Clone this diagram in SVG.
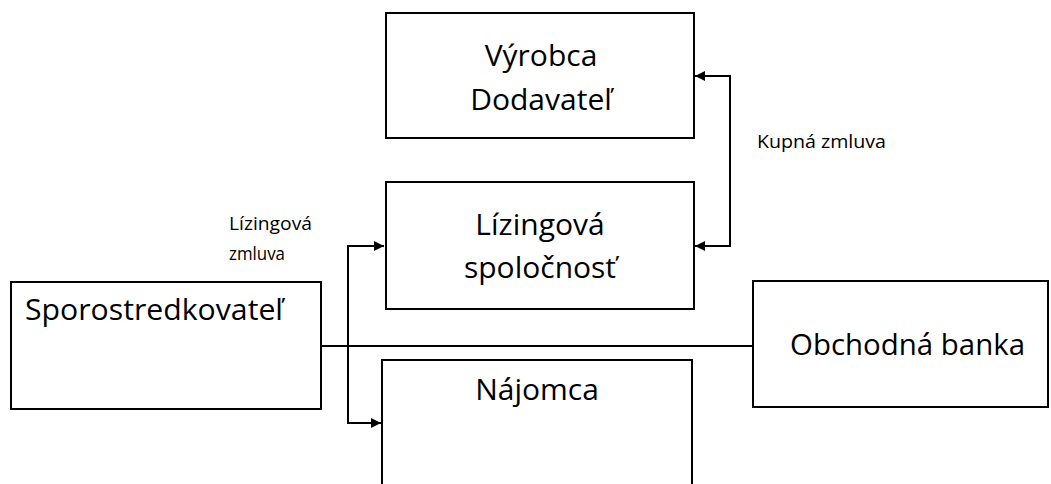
<svg xmlns="http://www.w3.org/2000/svg" width="1051" height="484" viewBox="0 0 1051 484">
<style>
.box{fill:#fff;stroke:#000;stroke-width:2}
.big{font-family:"Open Sans","Liberation Sans",sans-serif;font-size:30px;fill:#000}
.small{font-family:"Open Sans","Liberation Sans",sans-serif;font-size:18px;fill:#000}
.line{fill:none;stroke:#000;stroke-width:2}
</style>
<defs>
<marker id="arr" viewBox="0 0 10 10" refX="10" refY="5" markerWidth="5" markerHeight="5" markerUnits="strokeWidth" orient="auto">
<path d="M0,0 L10,5 L0,10 z" fill="#000"/>
</marker>
</defs>
<rect width="1051" height="484" fill="#fff"/>
<g id="vyrobca">
<rect class="box" x="386" y="13" width="308" height="125"/>
<text class="big" x="541" y="66" text-anchor="middle">Výrobca</text>
<text class="big" x="541" y="110" text-anchor="middle">Dodavateľ</text>
</g>
<g id="lizingova">
<rect class="box" x="386" y="182" width="308" height="127"/>
<text class="big" x="540" y="235" text-anchor="middle">Lízingová</text>
<text class="big" x="540" y="278" text-anchor="middle">spoločnosť</text>
</g>
<g id="sporostredkovatel">
<rect class="box" x="11" y="282" width="310" height="127"/>
<text class="big" x="25" y="320" textLength="258" lengthAdjust="spacingAndGlyphs">Sporostredkovateľ</text>
</g>
<g id="najomca">
<rect class="box" x="382" y="360" width="310" height="130"/>
<text class="big" x="537" y="400" text-anchor="middle">Nájomca</text>
</g>
<g id="banka">
<rect class="box" x="753" y="281" width="295" height="126"/>
<text class="big" x="790" y="355" textLength="235" lengthAdjust="spacingAndGlyphs">Obchodná banka</text>
</g>
<g id="connectors">
<polyline class="line" points="694,246 730,246 730,76 695,76" marker-end="url(#arr)"/>
<line class="line" x1="730" y1="246" x2="695" y2="246" marker-end="url(#arr)"/>
<polyline class="line" points="348,246 384,246" marker-end="url(#arr)"/>
<polyline class="line" points="384,246 348,246 348,423 381,423" marker-end="url(#arr)"/>
<line class="line" x1="321" y1="346" x2="753" y2="346"/>
</g>
<g id="labels">
<text class="small" x="757" y="148" textLength="129" lengthAdjust="spacingAndGlyphs">Kupná zmluva</text>
<text class="small" x="229" y="230" textLength="83" lengthAdjust="spacingAndGlyphs">Lízingová</text>
<text class="small" x="229" y="260" textLength="56" lengthAdjust="spacingAndGlyphs">zmluva</text>
</g>
</svg>
